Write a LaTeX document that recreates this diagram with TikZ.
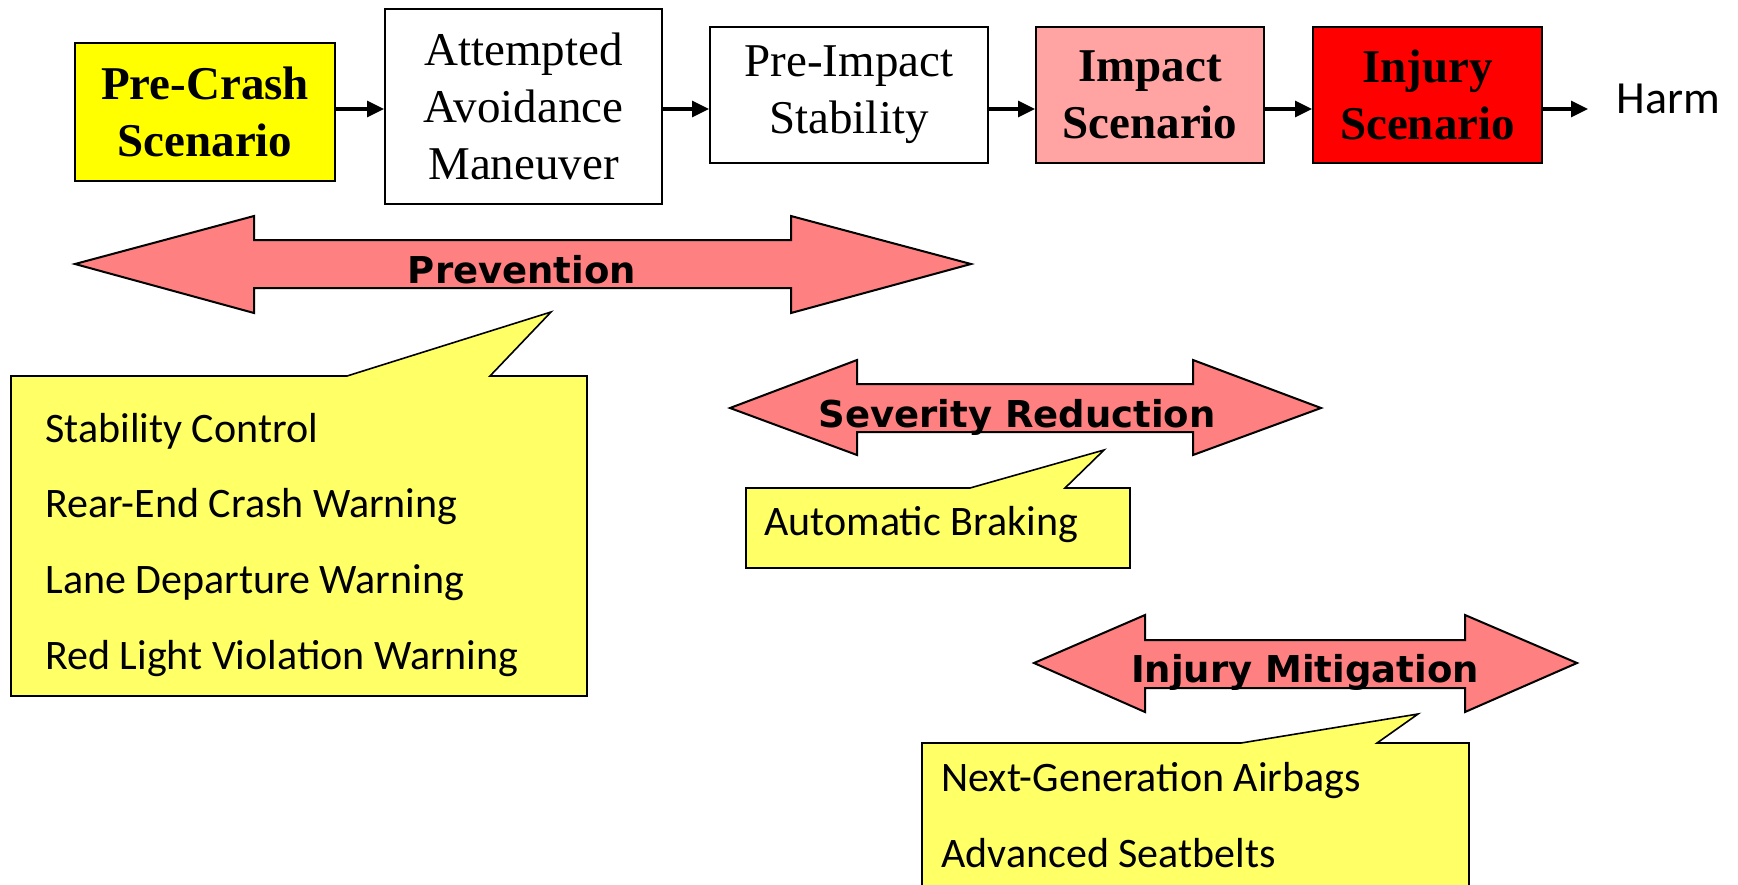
\documentclass[tikz,border=0pt]{standalone}
\usepackage{fontspec}
\setmainfont{Liberation Serif}
\newfontfamily\calfont{Carlito}
\newfontfamily\labfont{DejaVu Sans}
\usetikzlibrary{arrows.meta}
\definecolor{boxyellow}{HTML}{FFFF00}
\definecolor{impactpink}{HTML}{FFA3A3}
\definecolor{injuryred}{HTML}{FF0000}
\definecolor{bandred}{HTML}{FF8080}
\definecolor{bubbleyellow}{HTML}{FFFF66}
\begin{document}
\begin{tikzpicture}[x=0.5pt,y=-0.5pt,
  stagebox/.style={draw=black, line width=1pt, inner sep=0, align=center, fill=white,
    font=\fontsize{23.5}{28.5}\selectfont},
  boldstage/.style={stagebox, font=\fontsize{23.5}{28.5}\selectfont\bfseries},
  conn/.style={line width=1.6pt, -{Triangle[length=8.5pt,width=8pt]}},
  band/.style={draw=black, line width=1pt, fill=bandred, line join=miter},
  bandlabel/.style={font=\labfont\bfseries\fontsize{18.5}{22}\selectfont, inner sep=0, anchor=base},
  bubble/.style={draw=black, line width=0.8pt, fill=bubbleyellow},
  bubbletext/.style={font=\calfont\fontsize{21}{25}\selectfont, inner sep=0, anchor=base west}]
\useasboundingbox (0,0) rectangle (1738,884);
\clip (0,0) rectangle (1738,884);
\fill[white] (0,0) rectangle (1738,884);

% top chain
\node[boldstage, fill=boxyellow, minimum width=130pt, minimum height=69pt] (pc) at (205,112) {Pre-Crash\\Scenario};
\node[stagebox, minimum width=138.5pt, minimum height=97.5pt] (aam) at (523.5,106.5) {Attempted\\Avoidance\\Maneuver};
\node[stagebox, minimum width=139pt, minimum height=68pt] (pis) at (849,95) {Pre-Impact\\Stability};
\node[boldstage, fill=impactpink, minimum width=114pt, minimum height=68pt] (imp) at (1150,95) {Impact\\Scenario};
\node[boldstage, fill=injuryred, minimum width=114.5pt, minimum height=68pt] (inj) at (1427.5,95) {Injury\\Scenario};
\node[font=\calfont\fontsize{23}{28}\selectfont, inner sep=0, anchor=base west] (harm) at (1616,113) {Harm};

\coordinate (row) at (0,109);
\coordinate (harmtip) at (1588,109);
\draw[conn] (pc.east |- row) -- (aam.west |- row);
\draw[conn] (aam.east |- row) -- (pis.west |- row);
\draw[conn] (pis.east |- row) -- (imp.west |- row);
\draw[conn] (imp.east |- row) -- (inj.west |- row);
\draw[conn] (inj.east |- row) -- (harmtip);

% bands
\draw[band] (75,264) -- (254,216) -- (254,240) -- (791,240) -- (791,216) -- (971,264)
  -- (791,313) -- (791,288) -- (254,288) -- (254,313) -- cycle;
\node[bandlabel] (prev) at (522,283) {Prevention};

\draw[band] (730,408) -- (857,360) -- (857,384) -- (1193,384) -- (1193,360) -- (1321,408)
  -- (1193,455) -- (1193,432) -- (857,432) -- (857,455) -- cycle;
\node[bandlabel] (sev) at (1017,427) {Severity Reduction};

\draw[band] (1034,663) -- (1145,615) -- (1145,640) -- (1465,640) -- (1465,615) -- (1577,663)
  -- (1465,712) -- (1465,688) -- (1145,688) -- (1145,712) -- cycle;
\node[bandlabel] (mit) at (1305,682) {Injury Mitigation};

% callouts
\draw[bubble] (11,376) -- (347,376) -- (551,312) -- (490,376) -- (587,376) -- (587,696) -- (11,696) -- cycle;
\node[bubbletext] (p1) at (45,442) {Stability Control};
\node[bubbletext] (p2) at (45,517) {Rear-End Crash Warning};
\node[bubbletext] (p3) at (45,593) {Lane Departure Warning};
\node[bubbletext] (p4) at (45,669) {Red Light Violation Warning};

\draw[bubble] (746,488) -- (970,488) -- (1104,450) -- (1065,488) -- (1130,488) -- (1130,568) -- (746,568) -- cycle;
\node[bubbletext] (ab) at (764,535) {Automatic Braking};

\draw[bubble] (922,743) -- (1241,743) -- (1418,714) -- (1377,743) -- (1469,743) -- (1469,900) -- (922,900) -- cycle;
\node[bubbletext] (m1) at (941,791) {Next-Generation Airbags};
\node[bubbletext] (m2) at (941,867) {Advanced Seatbelts};
\end{tikzpicture}
\end{document}
